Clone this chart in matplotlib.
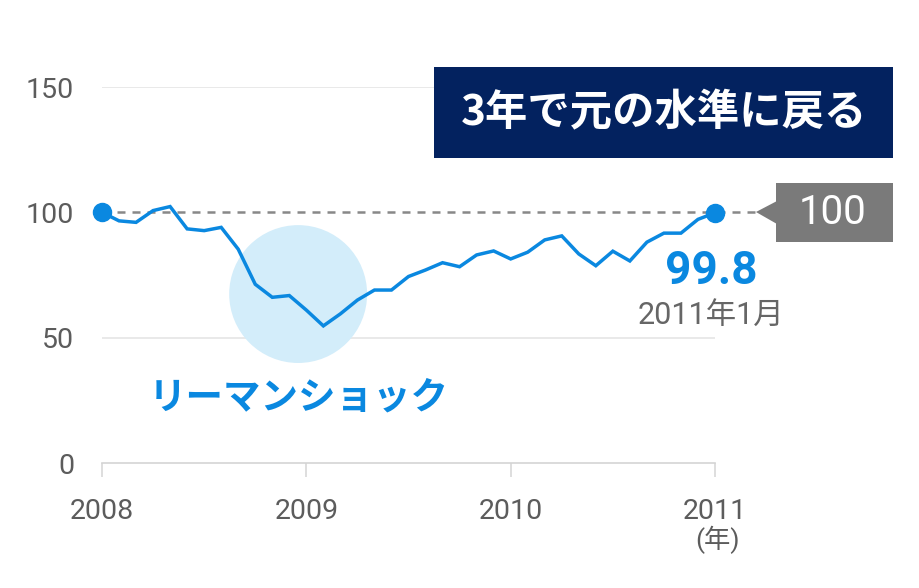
import numpy as np
import matplotlib.pyplot as plt
from matplotlib.patches import Rectangle, Polygon, Ellipse

plt.rcParams['font.family'] = ['Roboto', 'Noto Sans CJK JP', 'DejaVu Sans']

# monthly index, Jan 2008 = 100
values = [100, 96.6, 96.0, 100.7, 102.3, 93.4, 92.7, 94.0, 85.3, 71.3, 66.1, 66.8,
          61.0, 54.7, 59.5, 65.0, 69.0, 69.0, 74.4, 77.0, 79.9, 78.3, 83.0, 84.6,
          81.4, 84.1, 89.0, 90.6, 83.4, 78.7, 84.5, 80.6, 88.1, 91.7, 91.7, 97.2,
          99.8]
months = 2008 + np.arange(len(values)) / 12
year_ticks = [2008, 2009, 2010, 2011]
y_ticks = [0, 50, 100, 150]

blue = '#0a88e0'
navy = '#03225f'
grey_txt = '#5c5c5c'

W, H = 920, 588
fig = plt.figure(figsize=(W / 100, H / 100), dpi=100)
ax = fig.add_axes([102 / W, 1 - 463 / H, (715 - 102) / W, (463 - 87) / H])


def px(x, y):
    return (x / W, 1 - y / H)


ax.set_xlim(2008, 2011)
ax.set_ylim(0, 150)

# grid lines
for v in [50, 150]:
    ax.axhline(v, color='#e3e3e3', lw=1.1, zorder=1)
ax.plot([2008, 2008 + (756 - 102) / 204.33], [100, 100], color='#888888', lw=1.8,
        dashes=(3.2, 2.8), clip_on=False, zorder=2)

# lehman circle
ax.add_patch(Ellipse((2008.96, 67.4), 0.675, 55, color='#d3edfa', lw=0, zorder=1.5))

ax.plot(months, values, color=blue, lw=2.5, zorder=3, solid_joinstyle='miter')
ax.plot([months[0], months[-1]], [values[0], values[-1]], 'o', color=blue, ms=13,
        clip_on=False, zorder=4)

for s in ['top', 'right', 'left']:
    ax.spines[s].set_visible(False)
ax.spines['bottom'].set_color('#d4d4d4')
ax.spines['bottom'].set_linewidth(1.2)

ax.set_xticks(year_ticks)
ax.set_xticklabels([str(y) for y in year_ticks])
ax.set_yticks(y_ticks)
ax.tick_params(axis='x', length=10, width=1.1, color='#d4d4d4', labelsize=20.5,
               labelcolor=grey_txt, pad=15)
ax.tick_params(axis='y', length=0, labelsize=20.5, labelcolor=grey_txt, pad=20)
ax.text(2011.01, -30.8, '(年)', ha='center', va='center', fontsize=19, color=grey_txt)

# labels
ax.text(2008.964, 26.3, 'リーマンショック', ha='center', va='center', fontsize=27,
        fontweight='bold', color=blue, family='Noto Sans CJK JP')
ax.text(2010.98, 76.6, '99.8', ha='center', va='center', fontsize=33,
        fontweight='bold', color=blue)
ax.text(2010.98, 58.7, '2011年1月', ha='center', va='center', fontsize=22,
        color='#666666')

# title box
fig.patches.append(Rectangle(px(434, 158), 459 / W, 91 / H, transform=fig.transFigure,
                             color=navy, lw=0))
fig.text(*px(664, 113), '3年で元の水準に戻る', ha='center', va='center', fontsize=30.5,
         fontweight='bold', color='white', family='Noto Sans CJK JP')

# 100 callout
fig.patches.append(Rectangle(px(776, 242), 117 / W, 59 / H, transform=fig.transFigure,
                             color='#7a7a7a', lw=0))
fig.patches.append(Polygon([px(756, 212), px(777, 201), px(777, 224)], closed=True,
                           transform=fig.transFigure, color='#7a7a7a', lw=0))
fig.text(*px(833, 213), '100', ha='center', va='center', fontsize=29, color='white')

fig.savefig('out.png', dpi=100)
